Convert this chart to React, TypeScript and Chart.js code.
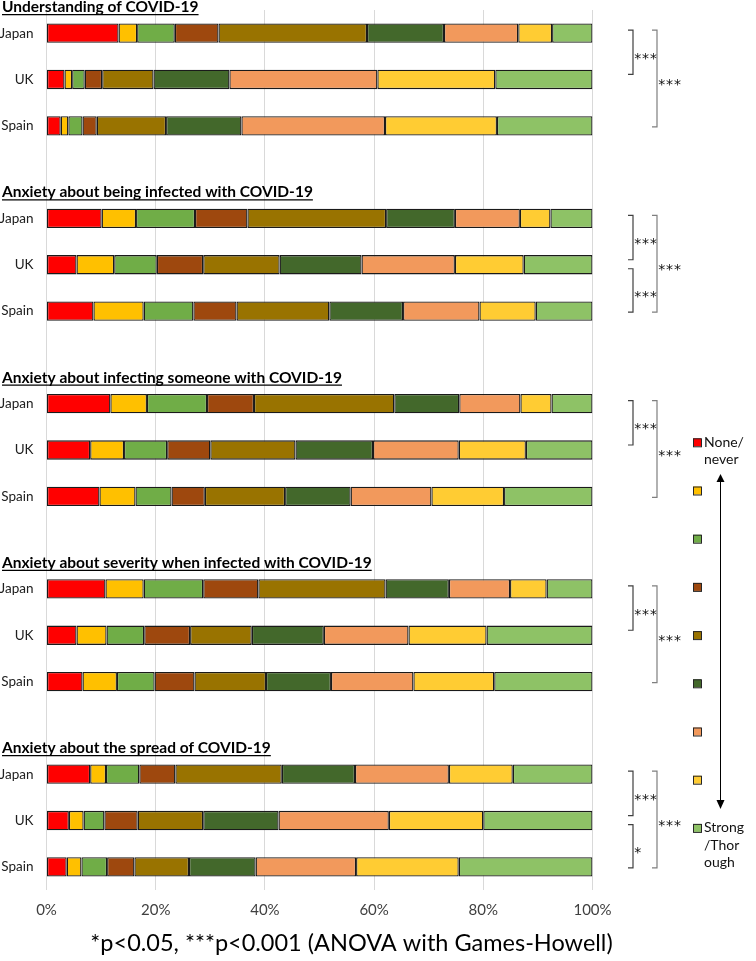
import React, { useEffect, useRef } from 'react';
import { Chart, registerables } from 'chart.js';

Chart.register(...registerables);

// ---------- data ----------
const questions = [
  'Understanding of COVID-19',
  'Anxiety about being infected with COVID-19',
  'Anxiety about infecting someone with COVID-19',
  'Anxiety about severity when infected with COVID-19',
  'Anxiety about the spread of COVID-19',
];
const countries = ['Japan', 'UK', 'Spain'];

// each row: share (%) of the 9 answer levels, None/never -> Strong/Thorough
const understanding = [
  [13.2, 3.4, 6.9, 8.0, 27.2, 14.1, 13.6, 6.2, 7.4],
  [3.3, 1.4, 2.3, 3.2, 9.4, 13.9, 27.1, 21.6, 17.8],
  [2.6, 1.4, 2.6, 2.6, 12.7, 13.8, 26.3, 20.5, 17.5],
];
const beingInfected = [
  [10.1, 6.3, 10.8, 9.6, 25.4, 12.6, 11.9, 5.6, 7.7],
  [5.5, 6.9, 7.8, 8.5, 14.0, 15.0, 17.1, 12.6, 12.6],
  [8.6, 9.2, 9.1, 7.9, 17.0, 13.5, 14.0, 10.3, 10.4],
];
const infectingSomeone = [
  [11.7, 6.7, 11.0, 8.6, 25.7, 11.9, 11.2, 5.7, 7.5],
  [8.0, 6.2, 7.9, 7.9, 15.6, 14.2, 15.7, 12.3, 12.2],
  [9.7, 6.6, 6.6, 6.1, 14.7, 12.0, 14.8, 13.3, 16.2],
];
const severity = [
  [10.8, 7.0, 10.9, 10.1, 23.3, 11.6, 11.2, 6.7, 8.4],
  [5.5, 5.5, 6.9, 8.4, 11.3, 13.2, 15.5, 14.3, 19.4],
  [6.6, 6.3, 6.9, 7.3, 13.1, 11.9, 15.1, 14.8, 18.0],
];
const spread = [
  [8.0, 2.9, 6.1, 6.6, 19.5, 13.4, 17.2, 11.7, 14.6],
  [4.1, 2.7, 3.8, 6.1, 12.0, 13.8, 20.2, 17.3, 20.0],
  [3.7, 2.7, 4.7, 5.0, 10.0, 12.2, 18.4, 18.8, 24.5],
];
const questionData = [understanding, beingInfected, infectingSomeone, severity, spread];

const levelColors = [
  '#FF0000', '#FFC000', '#70AD47', '#9E480E', '#997300',
  '#43682B', '#F2995C', '#FFCC33', '#8EC266',
];
const legendLabels = [['None/', 'never'], [], [], [], [], [], [], [], ['Strong', '/Thor', 'ough']];

const xTickValues = [0, 20, 40, 60, 80, 100];

// significance brackets: question index, country a -> country b
const sigBrackets = [
  { q: 0, a: 0, b: 1, mark: '***', outer: false },
  { q: 0, a: 0, b: 2, mark: '***', outer: true },
  { q: 1, a: 0, b: 1, mark: '***', outer: false },
  { q: 1, a: 1, b: 2, mark: '***', outer: false },
  { q: 1, a: 0, b: 2, mark: '***', outer: true },
  { q: 2, a: 0, b: 1, mark: '***', outer: false },
  { q: 2, a: 0, b: 2, mark: '***', outer: true },
  { q: 3, a: 0, b: 1, mark: '***', outer: false },
  { q: 3, a: 0, b: 2, mark: '***', outer: true },
  { q: 4, a: 0, b: 1, mark: '***', outer: false },
  { q: 4, a: 1, b: 2, mark: '*', outer: false },
  { q: 4, a: 0, b: 2, mark: '***', outer: true },
];
const caption = '*p<0.05, ***p<0.001 (ANOVA with Games-Howell)';

const FONT = 'Lato, "Open Sans", sans-serif';

// ---------- build category rows ----------
const rowLabels: string[] = [];
const rowRef: Array<{ q: number; c: number } | null> = [];
questions.forEach((_, q) => {
  if (q > 0) {
    rowLabels.push('');
    rowRef.push(null);
  }
  countries.forEach((name, c) => {
    rowLabels.push(name);
    rowRef.push({ q, c });
  });
});
const rowIndex = (q: number, c: number) => q * 4 + c;

const overlayPlugin = {
  id: 'overlay',
  afterDraw(chart: any) {
    const ctx = chart.ctx;
    const y = chart.scales.y;
    ctx.save();

    // question titles (bold, underlined)
    ctx.fillStyle = '#000';
    ctx.strokeStyle = '#000';
    ctx.font = `bold 15.5px ${FONT}`;
    ctx.textAlign = 'left';
    ctx.textBaseline = 'alphabetic';
    questions.forEach((t, q) => {
      const base = y.getPixelForValue(rowIndex(q, 0)) - 21;
      ctx.fillText(t, 2, base);
      const w = ctx.measureText(t).width;
      ctx.lineWidth = 1.3;
      ctx.beginPath();
      ctx.moveTo(2, base + 2.5);
      ctx.lineTo(2 + w, base + 2.5);
      ctx.stroke();
    });

    // significance brackets
    sigBrackets.forEach((s) => {
      const ya = y.getPixelForValue(rowIndex(s.q, s.a)) + (s.a === 0 ? -3 : 4);
      const yb = y.getPixelForValue(rowIndex(s.q, s.b)) + (s.b === 1 ? -5 : 1);
      const xv = s.outer ? 657 : 633;
      ctx.strokeStyle = s.outer ? '#7F7F7F' : '#404040';
      ctx.lineWidth = 1.2;
      ctx.beginPath();
      ctx.moveTo(xv - 5, ya);
      ctx.lineTo(xv, ya);
      ctx.lineTo(xv, yb);
      ctx.lineTo(xv - 5, yb);
      ctx.stroke();
      const mid = (ya + yb) / 2 + 1;
      ctx.fillStyle = '#111';
      ctx.font = `14px "DejaVu Sans", sans-serif`;
      ctx.textAlign = 'center';
      ctx.textBaseline = 'alphabetic';
      for (let i = 0; i < s.mark.length; i++) {
        ctx.fillText('*', xv + 4.8 + i * 7.8, mid + 9.5);
      }
    });

    // legend
    const legendX = 693;
    const legendY0 = 442.3;
    const legendStep = 48.2;
    levelColors.forEach((col, i) => {
      const cy = legendY0 + i * legendStep;
      ctx.fillStyle = col;
      ctx.fillRect(legendX, cy - 4, 8, 8);
      ctx.strokeStyle = '#262626';
      ctx.lineWidth = 1;
      ctx.strokeRect(legendX + 0.5, cy - 3.5, 8, 8);
      ctx.fillStyle = '#111';
      ctx.font = `14px ${FONT}`;
      ctx.textAlign = 'left';
      ctx.textBaseline = 'middle';
      legendLabels[i].forEach((line, k) => {
        ctx.fillText(line, 704, cy + k * 17.5);
      });
    });

    // double-headed arrow
    ctx.strokeStyle = '#000';
    ctx.fillStyle = '#000';
    ctx.lineWidth = 1;
    ctx.beginPath();
    ctx.moveTo(720.5, 481);
    ctx.lineTo(720.5, 801);
    ctx.stroke();
    ctx.beginPath();
    ctx.moveTo(720.5, 474);
    ctx.lineTo(716.5, 482);
    ctx.lineTo(724.5, 482);
    ctx.closePath();
    ctx.fill();
    ctx.beginPath();
    ctx.moveTo(720.5, 809);
    ctx.lineTo(716.5, 800);
    ctx.lineTo(724.5, 800);
    ctx.closePath();
    ctx.fill();

    // caption
    ctx.fillStyle = '#000';
    ctx.font = `23.5px ${FONT}`;
    ctx.textAlign = 'center';
    ctx.textBaseline = 'middle';
    ctx.fillText(caption, 351.5, 943);

    ctx.restore();
  },
};

export default function App() {
  const ref = useRef<HTMLCanvasElement | null>(null);

  useEffect(() => {
    if (!ref.current) return;
    const datasets = levelColors.map((color, l) => ({
      label: `Level ${l + 1}`,
      data: rowRef.map((r) => (r ? questionData[r.q][r.c][l] : null)),
      backgroundColor: color,
      borderColor: '#1a1a1a',
      borderWidth: 1.3,
      borderSkipped: false,
      barPercentage: 0.417,
      categoryPercentage: 1,
    }));

    const chart = new Chart(ref.current, {
      type: 'bar',
      data: { labels: rowLabels, datasets },
      plugins: [overlayPlugin],
      options: {
        indexAxis: 'y',
        animation: false,
        responsive: false,
        devicePixelRatio: 1,
        layout: { padding: { top: 10, right: 163.5, bottom: 0, left: 0 } },
        plugins: { legend: { display: false }, tooltip: { enabled: false } },
        scales: {
          x: {
            stacked: true,
            min: 0,
            max: 100,
            afterBuildTicks: (scale: any) => {
              scale.ticks = xTickValues.map((v) => ({ value: v }));
            },
            afterFit: (scale: any) => {
              scale.height = 71;
            },
            ticks: {
              callback: (v: any) => `${v}%`,
              color: '#404040',
              font: { family: FONT, size: 15 },
              padding: 11,
              maxRotation: 0,
            },
            grid: { color: '#D9D9D9', lineWidth: 1, drawTicks: false },
            border: { display: false },
          },
          y: {
            stacked: true,
            afterFit: (scale: any) => {
              scale.width = 46.5;
              scale.paddingTop = 0;
              scale.paddingBottom = 0;
            },
            ticks: {
              autoSkip: false,
              color: '#202020',
              font: { family: FONT, size: 13.5 },
              padding: 13,
            },
            grid: { display: false, drawTicks: false },
            border: { display: false },
          },
        },
      },
    } as any);
    return () => chart.destroy();
  }, []);

  return (
    <div style={{ position: 'absolute', left: 0, top: 0, width: 756, height: 961, background: '#fff' }}>
      <canvas ref={ref} width={756} height={961} style={{ width: 756, height: 961, display: 'block' }} />
    </div>
  );
}
